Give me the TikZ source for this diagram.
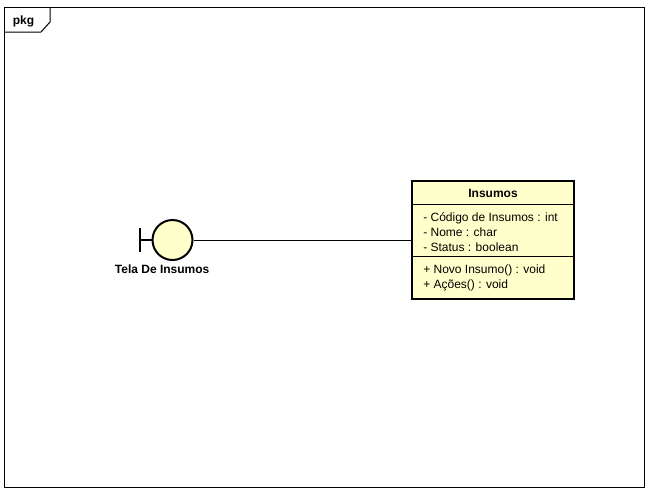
\documentclass[tikz,border=0pt]{standalone}
\usepackage{fontspec}
\setmainfont{Liberation Sans}
\usetikzlibrary{positioning,calc}
\definecolor{umlfill}{HTML}{FFFFCC}
\tikzstyle{frame} = [rectangle, draw=black, line width=0.75pt, minimum width=480.5pt, minimum height=360pt, inner sep=0pt]
\tikzstyle{classbox} = [rectangle, draw=black, fill=umlfill, line width=1.5pt, minimum width=121.5pt, minimum height=88.5pt, inner sep=0pt]
\tikzstyle{boundary} = [circle, draw=black, fill=umlfill, line width=1.5pt, minimum size=30pt, inner sep=0pt]
\tikzstyle{member} = [font=\fontsize{9}{11.25}\selectfont, align=left, inner sep=0pt, anchor=north west]
\tikzstyle{title} = [font=\fontsize{9}{11.25}\selectfont\bfseries, inner sep=0pt]
\tikzstyle{thinline} = [draw=black, line width=0.75pt]
\tikzstyle{barline} = [draw=black, line width=1.5pt]

\begin{document}
\begin{tikzpicture}[x=0.75pt,y=-0.75pt]
\useasboundingbox (0,0) rectangle (655,494);

\node (pkg) [frame] at (324.5,247.5) {};
\node (pkgname) [title] at (23.5,21.5) {pkg};
\coordinate (tabtop) at (50,7.5);
\coordinate (tabbend) at (50,22);
\coordinate (tabfoot) at (41,32);
\coordinate (tableft) at (4.5,32);

\node (tela) [boundary] at (172.5,240) {};
\node (telaname) [title, below left=7pt and -39pt of tela] {Tela De Insumos};
\coordinate (barmid) at (139.5,240);
\coordinate (bartop) at (139.5,228);
\coordinate (barbot) at (139.5,252);

\node (insumos) [classbox] at (493,240) {};
\node (insumosname) [title] at (493,193.5) {Insumos};
\coordinate (sepa) at ($(insumos.north west)+(0,24)$);
\coordinate (sepb) at ($(insumos.north west)+(0,76.5)$);
\node (attrs) [member] at (423,212) {- Código de Insumos : int\\- Nome : char\\- Status : boolean};
\node (ops) [member] at (423,265) {+ Novo Insumo() : void\\+ Ações() : void};

\draw [thinline] (tabtop) -- (tabbend) -- (tabfoot) -- (tableft);

\draw [barline] (bartop) -- (barbot);
\draw [barline] (barmid) -- (tela);
\draw [thinline] (tela) -- (insumos);

\draw [thinline] (sepa) -- (sepa -| insumos.east);
\draw [thinline] (sepb) -- (sepb -| insumos.east);

\end{tikzpicture}
\end{document}
